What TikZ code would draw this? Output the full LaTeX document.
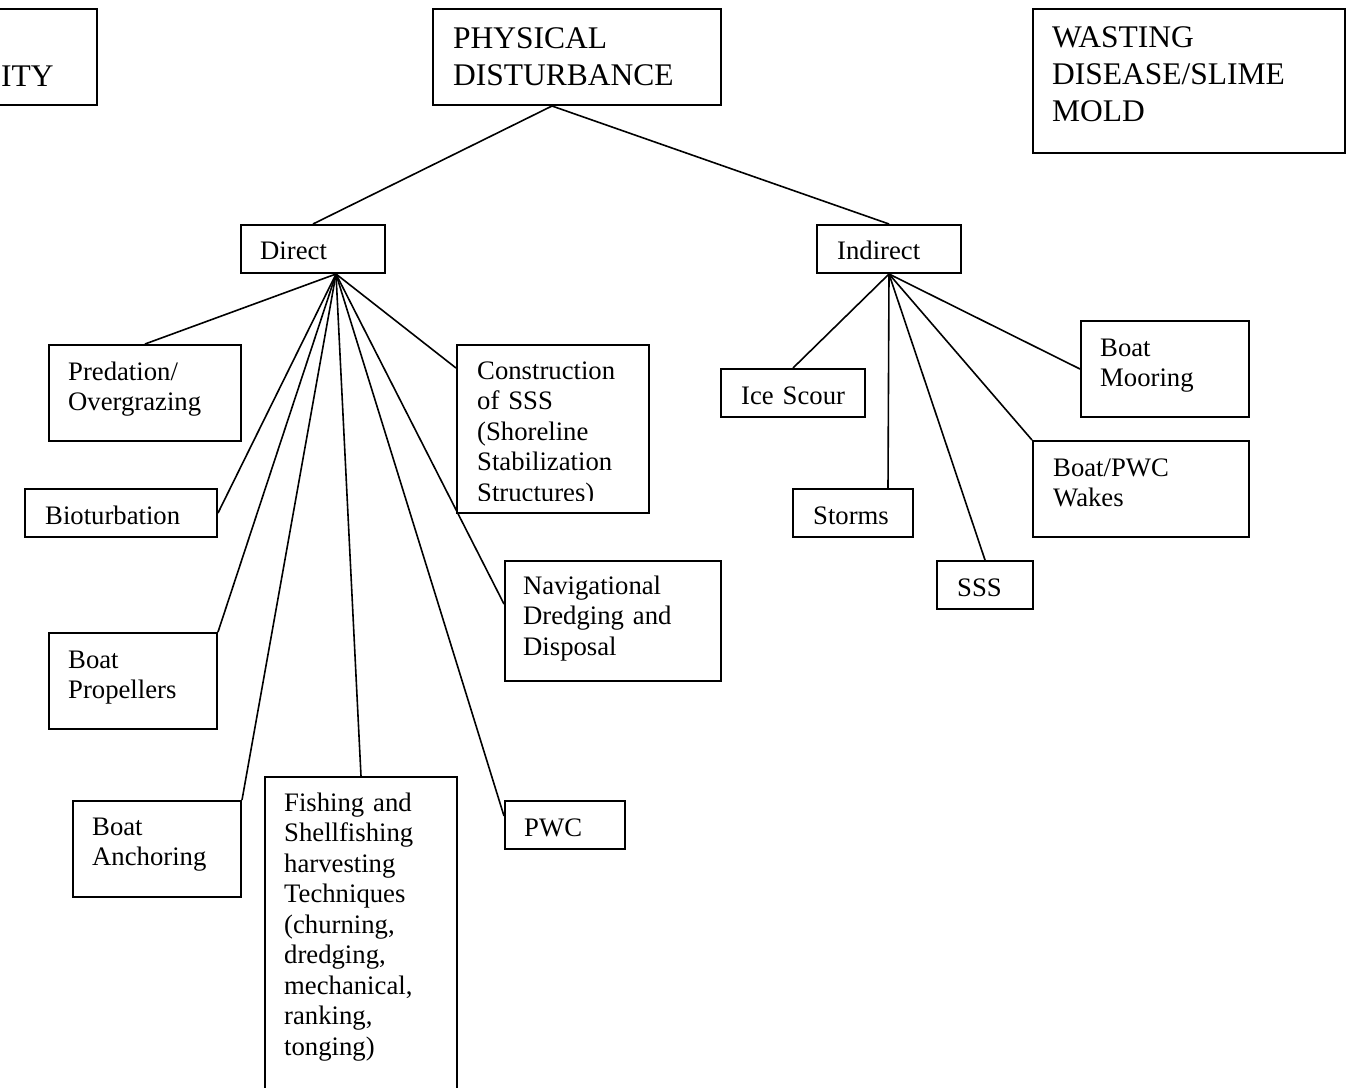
\documentclass[tikz,border=0pt]{standalone}
\usepackage{fontspec}
\setmainfont{Liberation Serif}
\usetikzlibrary{calc}
\begin{document}
\begin{tikzpicture}[x=1pt,y=-1pt,
  box/.style={draw, line width=2pt, rectangle, inner sep=0pt, anchor=north west},
  big/.style={anchor=base west, inner sep=0pt, align=left, text width=320pt, font=\fontsize{31.5}{37}\selectfont},
  sml/.style={anchor=base west, inner sep=0pt, align=left, text width=240pt, font=\fontsize{26.7}{30.5}\selectfont},
  link/.style={line width=1.6pt}]
\useasboundingbox (0,0) rectangle (1349,1087);
\clip (0,0) rectangle (1349,1087);
\fill[white] (0,0) rectangle (1349,1087);

% top boxes
\node[box, minimum width=110pt, minimum height=96pt] (qual) at (-14,8) {};
\node[anchor=base west, inner sep=0pt, font=\fontsize{31.5}{37}\selectfont] (tqual) at (1,86) {ITY};

\node[box, minimum width=288pt, minimum height=96pt] (phys) at (432,8) {};
\node[big] (tphys) at (453,48) {PHYSICAL\\DISTURBANCE};

\node[box, minimum width=312pt, minimum height=144pt] (wast) at (1032,8) {};
\node[big] (twast) at (1052,47) {WASTING\\DISEASE/SLIME\\MOLD};

% level 2
\node[box, minimum width=144pt, minimum height=48pt] (dir) at (240,224) {};
\node[sml] (tdir) at (260,259) {Direct};
\node[box, minimum width=144pt, minimum height=48pt] (ind) at (816,224) {};
\node[sml] (tind) at (837,259) {Indirect};

% direct children
\node[box, minimum width=192pt, minimum height=96pt] (pred) at (48,344) {};
\node[sml] (tpred) at (68,380) {Predation/\\Overgrazing};
\node[box, minimum width=192pt, minimum height=48pt] (bio) at (24,488) {};
\node[sml] (tbio) at (45,524) {Bioturbation};
\node[box, minimum width=168pt, minimum height=96pt] (prop) at (48,632) {};
\node[sml] (tprop) at (68,668) {Boat\\Propellers};
\node[box, minimum width=168pt, minimum height=96pt] (anch) at (72,800) {};
\node[sml] (tanch) at (92,835) {Boat\\Anchoring};
\node[box, minimum width=192pt, minimum height=360pt] (fish) at (264,776) {};
\node[sml] (tfish) at (284,811) {Fishing and\\Shellfishing\\harvesting\\Techniques\\(churning,\\dredging,\\mechanical,\\ranking,\\tonging)};
\node[box, minimum width=120pt, minimum height=48pt] (pwc) at (504,800) {};
\node[sml] (tpwc) at (524,836) {PWC};
\node[box, minimum width=216pt, minimum height=120pt] (nav) at (504,560) {};
\node[sml] (tnav) at (523,594) {Navigational\\Dredging and\\Disposal};
\node[box, minimum width=192pt, minimum height=168pt] (cons) at (456,344) {};
\begin{scope}
\clip (456,344) rectangle (648,500);
\node[sml] (tcons) at (477,379) {Construction\\of SSS\\(Shoreline\\Stabilization\\Structures)};
\end{scope}

% indirect children
\node[box, minimum width=144pt, minimum height=48pt] (ice) at (720,368) {};
\node[sml] (tice) at (741,404) {Ice Scour};
\node[box, minimum width=120pt, minimum height=48pt] (storm) at (792,488) {};
\node[sml] (tstorm) at (813,524) {Storms};
\node[box, minimum width=96pt, minimum height=48pt] (sss) at (936,560) {};
\node[sml] (tsss) at (957,596) {SSS};
\node[box, minimum width=216pt, minimum height=96pt] (wake) at (1032,440) {};
\node[sml] (twake) at (1053,476) {Boat/PWC\\Wakes};
\node[box, minimum width=168pt, minimum height=96pt] (moor) at (1080,320) {};
\node[sml] (tmoor) at (1100,356) {Boat\\Mooring};

% hubs
\coordinate (phub) at ($(phys.south west)+(120,0)$);
\coordinate (dhub) at ($(dir.south west)+(96,0)$);

% connectors
\draw[link] (phub) -- (dir.north);
\draw[link] (phub) -- (ind.north);

\draw[link] (dhub) -- (pred.north);
\draw[link] (dhub) -- (bio.east);
\draw[link] (dhub) -- (prop.north east);
\draw[link] (dhub) -- (anch.north east);
\draw[link] (dhub) -- (fish.north);
\draw[link] (dhub) -- ($(pwc.north west)+(0,16)$);
\draw[link] (dhub) -- ($(nav.north west)+(0,44)$);
\draw[link] (dhub) -- ($(cons.north west)+(0,24)$);

\draw[link] (ind.south) -- (ice.north);
\draw[link] (ind.south) -- ($(storm.north west)+(96,0)$);
\draw[link] (ind.south) -- (sss.north);
\draw[link] (ind.south) -- (wake.north west);
\draw[link] (ind.south) -- (moor.west);
\end{tikzpicture}
\end{document}
